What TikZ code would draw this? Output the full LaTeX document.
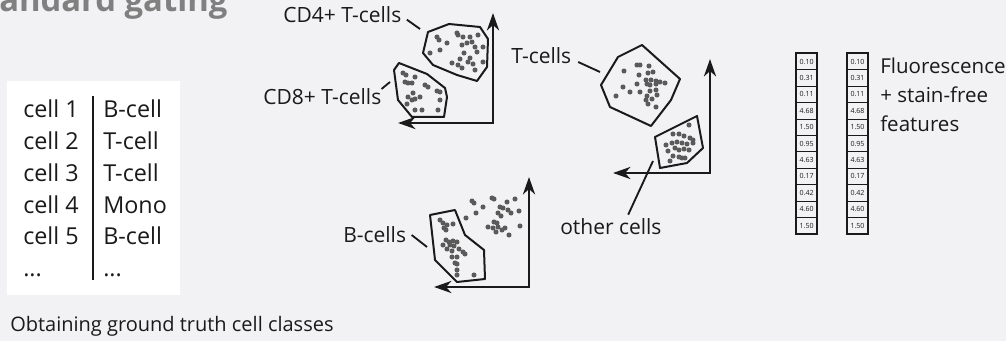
\documentclass[tikz,border=0pt]{standalone}
\usepackage{fontspec}
\setmainfont{Open Sans}
\usetikzlibrary{arrows.meta}
\definecolor{bggray}{RGB}{242,242,244}
\definecolor{ink}{RGB}{26,26,26}
\definecolor{dotgray}{RGB}{90,90,90}
\definecolor{titlegray}{RGB}{128,128,128}
\tikzset{
  axes/.style={line width=2.2pt,ink,line join=miter,
    {Stealth[length=13pt,width=9pt,inset=4pt]}-{Stealth[length=13pt,width=9pt,inset=4pt]}},
  gatebox/.style={line width=1.5pt,ink,line join=round},
  leader/.style={line width=1.4pt,ink},
  dot/.style={fill=dotgray},
  lbl/.style={font=\fontsize{15.75}{18}\selectfont,inner sep=0pt,text=ink},
  tab/.style={font=\fontsize{17.5}{20}\selectfont,inner sep=0pt,anchor=base west,text=ink},
  feat/.style={draw=ink,line width=0.6pt,minimum width=15pt,minimum height=12.3pt,
    inner sep=0pt,font=\fontsize{5.3}{6}\selectfont,text=ink},
}

\begin{document}
\begin{tikzpicture}[x=0.75pt,y=-0.75pt,>=Stealth]
    \fill[bggray] (0,0) rectangle (1006,341);
    \useasboundingbox (0,0) rectangle (1006,341);
    % cut-off heading
    \node[anchor=base west,inner sep=0pt,text=titlegray,
      font=\fontsize{24.6}{28}\selectfont\bfseries] (title) at (-1,12) {andard gating};
    % ground truth table
    \fill[white] (7,81) rectangle (180,295);
    \draw[line width=0.8pt,ink] (93,96) -- (93,280);
    \foreach \i/\c/\y in {1/B-cell/118,2/T-cell/150,3/T-cell/181.7,4/Mono/213.3,5/B-cell/245} {
      \node[tab] (id\i) at (23,\y) {cell \i};
      \node[tab] (cls\i) at (103,\y) {\c};
    }
    \node[tab] (idmore) at (23,276.7) {...};
    \node[tab] (clsmore) at (103,276.7) {...};
    \node[anchor=base west,inner sep=0pt,text=ink,font=\fontsize{15}{18}\selectfont]
      (caption) at (10,332) {Obtaining ground truth cell classes};

    % gate 1: CD4 / CD8
    \coordinate (cdO) at (493,123);
    \coordinate (cdY) at (493,13);
    \coordinate (cdX) at (398,123);
    \draw[axes] (cdY) -- (cdO) -- (cdX);
    \draw[gatebox] (428,32) -- (449,24) -- (480,27) -- (488,39) -- (487,67) -- (477,81)
      -- (457,75) -- (433,65) -- (423,53) -- cycle;
    \draw[gatebox] (399,63) -- (427,74) -- (445,88) -- (447,97) -- (444,117) -- (412,117)
      -- (398,100) -- (394,70) -- cycle;
    \foreach \p in {(437,37),(439,40),(447,43),(457,33),(458,35),(463,37),(470,37),(478,35),
      (440,50),(430,53),(462,45),(467,43),(472,42),(475,47),(477,52),(483,47),(464,53),
      (470,58),(460,59),(468,62),(452,63),(458,65),(473,64),(483,62),(475,70),(462,68)}
      \fill[dot] \p circle (1.9pt);
    \foreach \p in {(403,73),(406,75),(415,77),(405,82),(408,83),(412,83),(425,85),(428,87),
      (437,91),(440,92),(413,93),(420,97),(408,97),(412,100),(415,99),(407,104),(440,100),
      (415,110),(422,110),(438,110)}
      \fill[dot] \p circle (1.9pt);
    \node[lbl,anchor=west] (cd4) at (283,15) {CD4+ T-cells};
    \node[lbl,anchor=west] (cd8) at (263,97) {CD8+ T-cells};
    \coordinate (cd4g) at (420,29);
    \coordinate (cd8g) at (390,82);
    \draw[leader] ([shift={(4pt,-3.5pt)}]cd4.east) -- (cd4g);
    \draw[leader] ([shift={(0pt,6pt)}]cd8.east) -- (cd8g);

    % gate 2: T-cells / other
    \coordinate (tO) at (710,173);
    \coordinate (tY) at (710,59);
    \coordinate (tX) at (613,173);
    \draw[axes] (tY) -- (tO) -- (tX);
    \draw[gatebox] (618,57) -- (642,45) -- (680,79) -- (671,100) -- (651,126) -- (610,107)
      -- (601,85) -- cycle;
    \draw[gatebox] (655,137) -- (697,116) -- (703,148) -- (687,163) -- (660,168) -- cycle;
    \foreach \p in {(637,65),(640,65),(649,66),(624,71),(639,75),(648,73),(653,72),(646,80),
      (651,80),(656,81),(660,82),(665,83),(637,84),(647,84),(650,85),(656,84),(623,87),
      (630,92),(640,92),(650,91),(656,90),(616,96),(647,96),(657,95),(646,100),(652,99),
      (648,104),(656,107)}
      \fill[dot] \p circle (1.9pt);
    \foreach \p in {(689,125),(673,134),(679,134),(684,136),(690,138),(693,140),(666,145),
      (672,143),(677,142),(682,143),(687,144),(693,143),(668,151),(675,148),(679,150),
      (684,149),(689,150),(673,156),(679,157),(685,158),(670,161),(682,158)}
      \fill[dot] \p circle (1.9pt);
    \node[lbl,anchor=west] (tlbl) at (511,56) {T-cells};
    \node[lbl,anchor=west] (olbl) at (560,227) {other cells};
    \coordinate (tg) at (600,72);
    \coordinate (og) at (653,161);
    \draw[leader] ([shift={(5pt,-4.5pt)}]tlbl.east) -- (tg);
    \draw[leader] ([shift={(13pt,3pt)}]olbl.north) -- (og);

    % gate 3: B-cells
    \coordinate (bO) at (529,287);
    \coordinate (bY) at (529,177);
    \coordinate (bX) at (434,287);
    \draw[axes] (bY) -- (bO) -- (bX);
    \draw[gatebox] (430,215) -- (455,210) -- (465,235) -- (484,250) -- (485,279) -- (457,282)
      -- (435,260) -- cycle;
    \foreach \p in {(440,220),(443,223),(447,225),(453,224),(444,228),(446,230),(446,240),
      (449,242),(453,241),(457,242),(443,245),(450,245),(454,246),(459,249),(447,249),
      (452,251),(463,252),(465,254),(452,257),(457,257),(455,263),(457,264),(457,270),
      (474,275),(457,275)}
      \fill[dot] \p circle (1.9pt);
    \foreach \p in {(466,218),(472,201),(474,203),(476,213),(483,207),(492,198),(494,199),
      (500,207),(498,213),(503,208),(507,202),(508,210),(515,199),(511,213),(519,211),
      (501,216),(494,222),(497,223),(488,227),(493,228),(498,227),(502,230),(505,228),
      (509,235),(520,226),(496,232)}
      \fill[dot] \p circle (1.9pt);
    \node[lbl,anchor=west] (blbl) at (343,235) {B-cells};
    \coordinate (bg) at (427,247);
    \draw[leader] ([xshift=4pt]blbl.east) -- (bg);

    % feature vectors
    \foreach \v [count=\i] in {0.10,0.31,0.11,4.68,1.50,0.95,4.63,0.17,0.42,4.60,1.50} {
      \node[feat] (fa\i) at (806.7,{53.3+16.42*(\i-0.5)}) {\v};
      \node[feat] (fb\i) at (857.5,{53.3+16.42*(\i-0.5)}) {\v};
    }
    \draw[line width=1.4pt,ink] (fa1.north west) rectangle (fa11.south east);
    \draw[line width=1.4pt,ink] (fb1.north west) rectangle (fb11.south east);
    \node[anchor=north west,inner sep=0pt,text=ink,align=left,
      font=\fontsize{15.4}{21.8}\selectfont] (feattxt) at (880,58)
      {Fluorescence\\+ stain-free\\features};
\end{tikzpicture}
\end{document}
